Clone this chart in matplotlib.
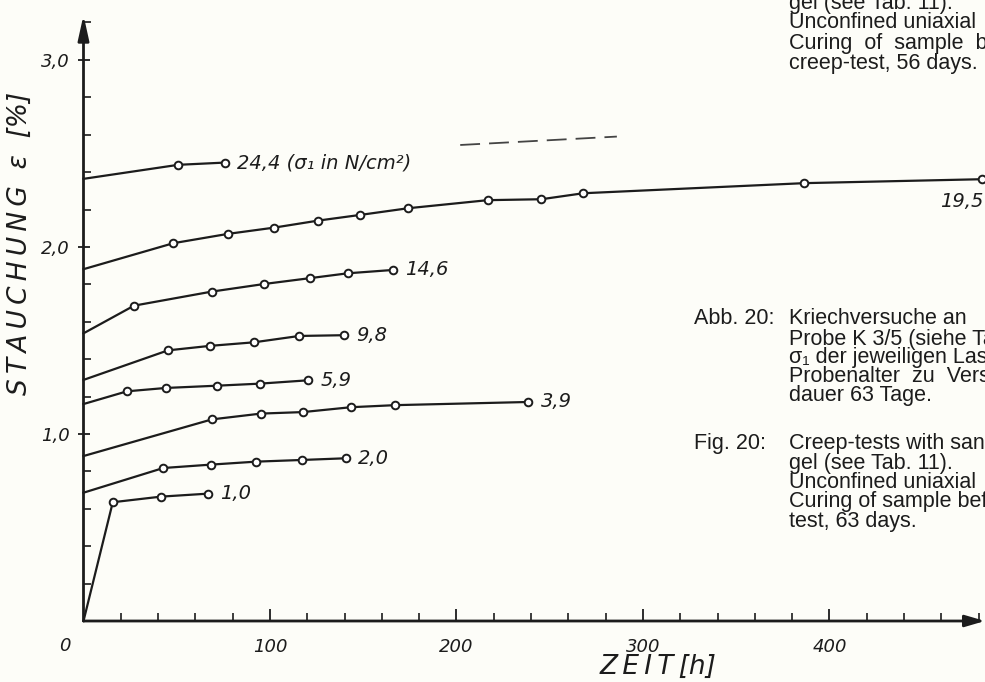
import matplotlib
matplotlib.use("Agg")
import matplotlib.pyplot as plt
from matplotlib.ticker import MultipleLocator

# Kriechversuche, Stauchung ueber Zeit; sigma_1 in N/cm^2
t_10 = [0, 15.7, 41.6, 66.9]
e_10 = [0, 0.635, 0.665, 0.681]
t_20 = [0, 42.8, 68.2, 92.5, 117.2, 140.6]
e_20 = [0.686, 0.818, 0.836, 0.852, 0.861, 0.870]
t_39 = [0, 68.9, 95.2, 117.7, 143.4, 167.0, 238.6]
e_39 = [0.882, 1.078, 1.109, 1.117, 1.143, 1.154, 1.171]
t_59 = [0, 23.3, 44.2, 71.4, 94.5, 120.5]
e_59 = [1.160, 1.228, 1.246, 1.258, 1.269, 1.287]
t_98 = [0, 45.3, 67.8, 91.4, 115.7, 139.5]
e_98 = [1.289, 1.447, 1.471, 1.490, 1.524, 1.528]
t_146 = [0, 27.1, 68.7, 97.0, 121.4, 141.7, 166.1]
e_146 = [1.538, 1.686, 1.761, 1.802, 1.833, 1.859, 1.877]
t_195 = [0, 48.2, 77.6, 102.1, 126.0, 148.3, 174.2, 216.7, 245.5, 268.0, 386.5, 481.6]
e_195 = [1.881, 2.020, 2.070, 2.103, 2.141, 2.171, 2.207, 2.250, 2.255, 2.287, 2.341, 2.362]
t_244 = [0, 50.8, 75.9]
e_244 = [2.364, 2.439, 2.451]
t_dash = [202, 286]
e_dash = [2.545, 2.59]

series = [(t_10, e_10, "1,0"), (t_20, e_20, "2,0"), (t_39, e_39, "3,9"),
          (t_59, e_59, "5,9"), (t_98, e_98, "9,8"), (t_146, e_146, "14,6"),
          (t_195, e_195, "19,5"), (t_244, e_244, "24,4 (σ₁ in N/cm²)")]

x_ticks = [100, 200, 300, 400]
x_ticklabels = ["100", "200", "300", "400"]
y_ticks = [1.0, 2.0, 3.0]
y_ticklabels = ["1,0", "2,0", "3,0"]

bg = "#fdfdf8"
ink = "#1c1c1c"
ital = dict(family=["DejaVu Sans"], style="italic", color=ink)
cap = dict(family=["Liberation Sans", "DejaVu Sans"], color=ink, fontsize=15.5, va="center")
th = "\u2009"  # schmaler abstand

fig = plt.figure(figsize=(9.85, 6.82), dpi=100, facecolor=bg)
ax = fig.add_axes([83.5 / 985, 61 / 682, 901.5 / 985, 606 / 682])
ax.set_facecolor(bg)
ax.set_xlim(0, 483.4)
ax.set_ylim(0, 3.24)
for s in ax.spines.values():
    s.set_visible(False)

# achsen mit pfeilen
ax.annotate("", xy=(0, 1), xytext=(0, 0), xycoords="axes fraction",
            arrowprops=dict(arrowstyle="-|>,head_length=1.5,head_width=0.33",
                            lw=2, color=ink, shrinkA=0, shrinkB=0))
ax.annotate("", xy=(1, 0), xytext=(0, 0), xycoords="axes fraction",
            arrowprops=dict(arrowstyle="-|>,head_length=1.2,head_width=0.35",
                            lw=2, color=ink, shrinkA=0, shrinkB=0))

ax.set_xticks(x_ticks)
ax.set_xticklabels(x_ticklabels, **ital, fontsize=13)
ax.xaxis.set_minor_locator(MultipleLocator(20))
ax.set_yticks(y_ticks)
ax.set_yticklabels(y_ticklabels, **ital, fontsize=13)
ax.yaxis.set_minor_locator(MultipleLocator(0.2))
ax.tick_params(axis="x", which="major", direction="in", length=9, width=1.3, pad=12, colors=ink)
ax.tick_params(axis="x", which="minor", direction="in", length=6, width=1.2, colors=ink)
ax.tick_params(axis="y", which="major", direction="inout", length=8, width=1.3, pad=6, colors=ink)
ax.tick_params(axis="y", which="minor", direction="in", length=5, width=1.2, colors=ink)
ax.text(-10, -0.135, "0", ha="center", va="center", fontsize=13, **ital)

for t, e, lab in series:
    ax.plot(t, e, color=ink, lw=1.6, marker="o", ms=5.5, mfc="white", mec=ink,
            mew=1.4, markevery=slice(1, None), clip_on=False, zorder=3)
    if lab == "19,5":
        ax.annotate(lab, (t[-1], e[-1]), xytext=(-42, -22), textcoords="offset pixels",
                    ha="left", va="center", fontsize=14, **ital)
    else:
        ax.annotate(lab, (t[-1], e[-1]), xytext=(12, 0), textcoords="offset pixels",
                    ha="left", va="center", fontsize=14, **ital)

ax.plot(t_dash, e_dash, color="#444444", lw=1.3, dashes=(11, 5))

ylab = th.join("STAUCHUNG") + "  ε  [%]"
fig.text(20 / 985, 1 - 243 / 682, ylab, rotation=90, ha="center",
         va="center", fontsize=19, **ital)
fig.text(658 / 985, 1 - 667 / 682, th.join("ZEIT") + th + "[h]", ha="center",
         va="center", fontsize=19, **ital)

# bildunterschrift
top_lines = [(3, "gel (see Tab. 11)."), (23, "Unconfined uniaxial"),
             (43, "Curing  of  sample  before"), (64, "creep-test, 56 days.")]
for y, s in top_lines:
    fig.text(789 / 985, 1 - y / 682, s, **cap)

fig.text(694 / 985, 1 - 319 / 682, "Abb. 20:", **cap)
fig.text(694 / 985, 1 - 444 / 682, "Fig. 20:", **cap)
right_lines = [(319, "Kriechversuche an"), (339, "Probe K 3/5 (siehe Tab."),
               (358, "σ₁ der jeweiligen Last"), (377, "Probenalter  zu  Vers"),
               (396, "dauer 63 Tage."), (444, "Creep-tests with sand"),
               (463, "gel (see Tab. 11)."), (482, "Unconfined uniaxial"),
               (502, "Curing of sample before"), (521, "test, 63 days.")]
for y, s in right_lines:
    fig.text(789 / 985, 1 - y / 682, s, **cap)

fig.savefig("out.png", dpi=100, facecolor=bg)
